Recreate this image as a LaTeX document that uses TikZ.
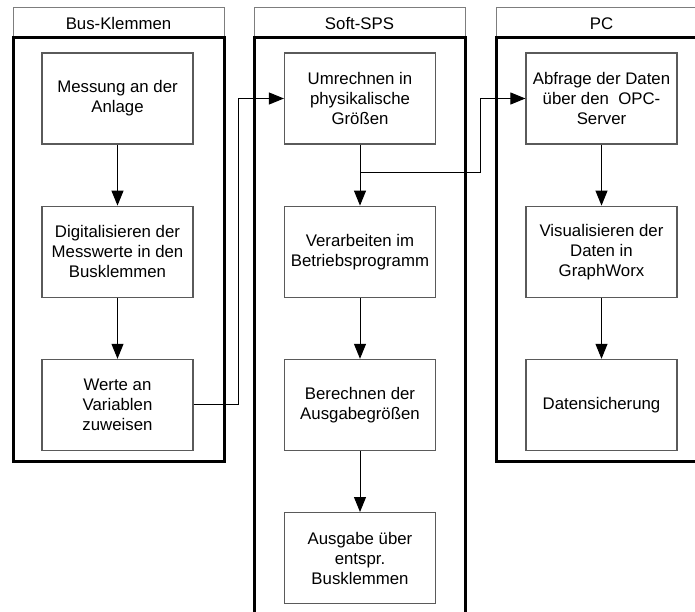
\documentclass[tikz,border=0pt]{standalone}
\usepackage{fontspec}
\setmainfont{Liberation Sans}
\usetikzlibrary{arrows.meta,positioning,calc}
\definecolor{rahmen}{RGB}{90,90,90}
\definecolor{kopfrand}{RGB}{125,125,125}
\tikzset{
  kasten/.style={draw=rahmen,line width=1.2pt,minimum width=151pt,minimum height=91pt,align=center,inner sep=2pt},
  kopf/.style={draw=kopfrand,line width=0.9pt,minimum width=211pt,minimum height=30.5pt,inner sep=0pt,text height=17pt,text depth=1.5pt},
  bahn/.style={line width=3pt},
  pfeil/.style={-{Triangle[length=15pt,width=12pt]},line width=1pt},
}

\begin{document}
\begin{tikzpicture}[x=1pt,y=-1pt,font=\fontsize{16.8}{20}\selectfont]
  \clip (0,0) rectangle (695,612);
  % Bahnen mit Kopf
  \foreach \i/\x/\lab/\tief in {1/118.5/Bus-Klemmen/461, 2/359.5/Soft-SPS/640, 3/601.5/PC/461} {
    \node[kopf] (kopf\i) at (\x,22.25) {\lab};
    \draw[bahn] ({\x-105.5},37.5) rectangle ({\x+105.5},\tief);
  }
  % Bus-Klemmen
  \node[kasten] (mes) at (117.5,98.5) {Messung an der\\Anlage};
  \node[kasten,below=61pt of mes] (dig) {Digitalisieren der\\Messwerte in den\\Busklemmen};
  \node[kasten,below=61pt of dig] (wer) {Werte an\\Variablen\\zuweisen};
  % Soft-SPS
  \node[kasten] (umr) at (360,98.5) {Umrechnen in\\physikalische\\Größen};
  \node[kasten,below=61pt of umr] (ver) {Verarbeiten im\\Betriebsprogramm};
  \node[kasten,below=61pt of ver] (ber) {Berechnen der\\Ausgabegrößen};
  \node[kasten,below=61pt of ber] (aus) {Ausgabe über\\entspr.\\Busklemmen};
  % PC
  \node[kasten] (abf) at (601.5,98.5) {Abfrage der Daten\\über den\ \ OPC-\\Server};
  \node[kasten,below=61pt of abf] (vis) {Visualisieren der\\Daten in\\GraphWorx};
  \node[kasten,below=61pt of vis] (dat) {Datensicherung};

  \draw[pfeil] (mes) -- (dig);
  \draw[pfeil] (dig) -- (wer);
  \draw[pfeil] (umr) -- (ver);
  \draw[pfeil] (ver) -- (ber);
  \draw[pfeil] (ber) -- (aus);
  \draw[pfeil] (abf) -- (vis);
  \draw[pfeil] (vis) -- (dat);

  \draw[pfeil] (wer.east) -| ($(wer.east)!.5!(umr.west)$) |- (umr.west);
  \coordinate (abzw) at ($(umr.south)!.46!(ver.north)$);
  \draw[pfeil] (abzw) -| ($(umr.east)!.5!(abf.west)$) |- (abf.west);
\end{tikzpicture}
\end{document}
